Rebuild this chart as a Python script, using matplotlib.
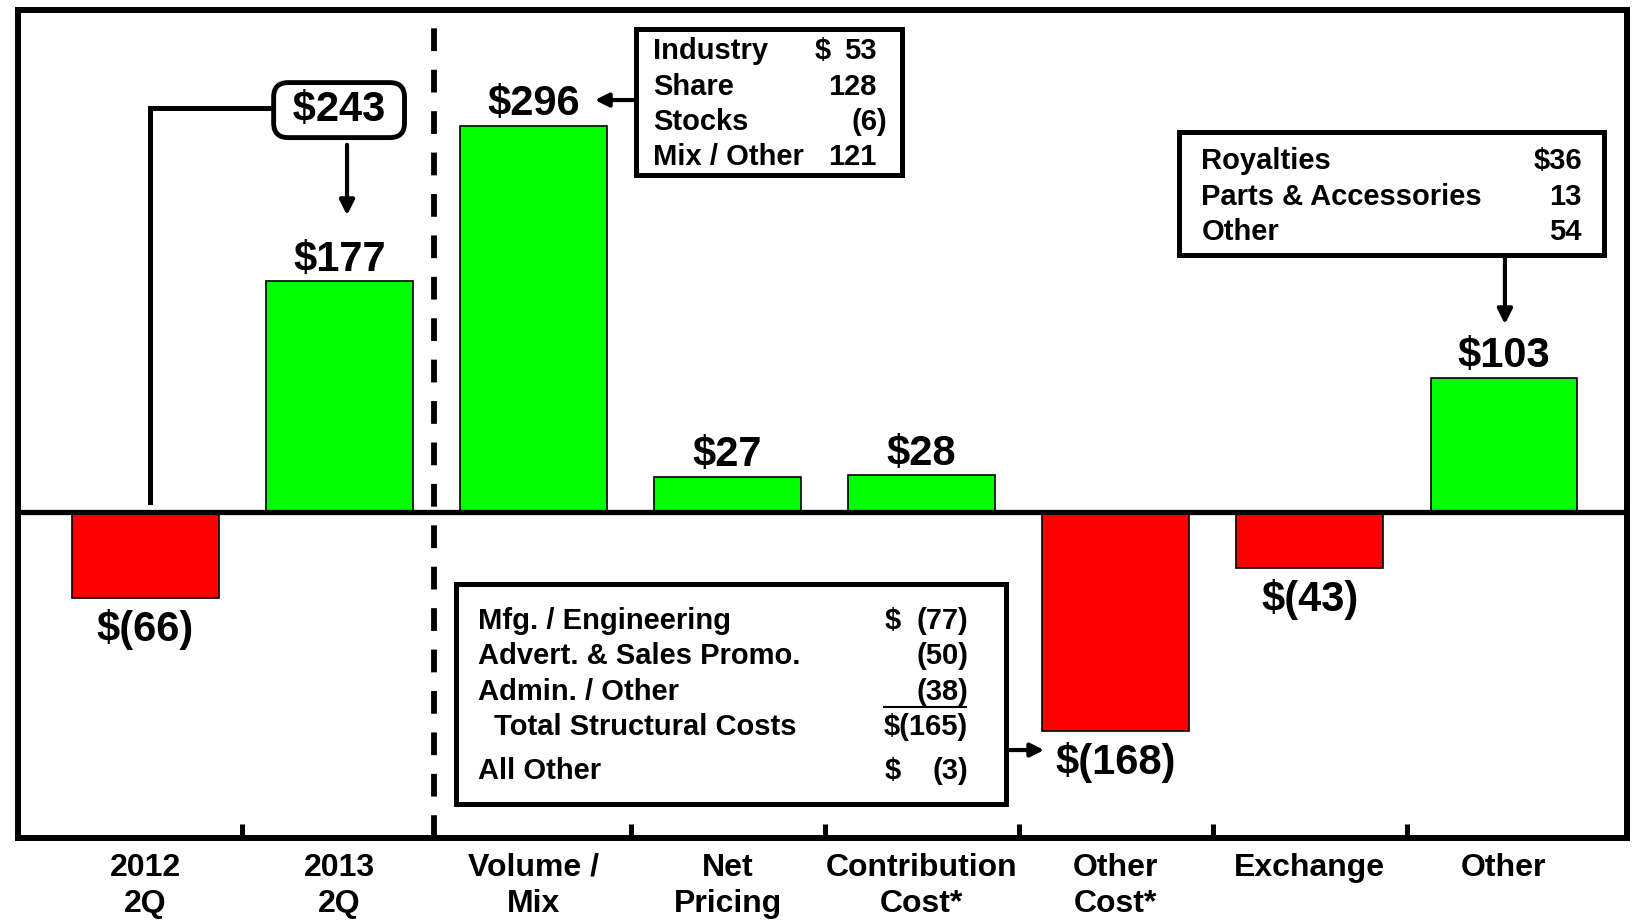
import matplotlib
matplotlib.use("Agg")
import matplotlib.pyplot as plt

plt.rcParams['font.family'] = ['Liberation Sans', 'DejaVu Sans']
plt.rcParams['font.weight'] = 'bold'

# datos
categories = ["2012\n2Q", "2013\n2Q", "Volume /\nMix", "Net\nPricing",
              "Contribution\nCost*", "Other\nCost*", "Exchange", "Other"]
values = [-66, 177, 296, 27, 28, -168, -43, 103]
change_total = 243

volume_items = ["Industry", "Share", "Stocks", "Mix / Other"]
volume_vals = [53, 128, -6, 121]

cost_items = ["Mfg. / Engineering", "Advert. & Sales Promo.", "Admin. / Other"]
cost_vals = [-77, -50, -38]
cost_total_label = "Total Structural Costs"
cost_total = -165
cost_other_label = "All Other"
cost_other = -3

other_items = ["Royalties", "Parts & Accessories", "Other"]
other_vals = [36, 13, 54]


def money(v, sign=True):
    s = "(%d)" % abs(v) if v < 0 else "%d" % v
    return "$" + s if sign else s


GREEN = "#00ff00"
RED = "#ff0000"
BOX_FS = 21
VAL_FS = 30
DY = 8.0  # de centro de mayusculas a linea base, en unidades de datos

fig = plt.figure(figsize=(16.34, 9.23), dpi=100)
ax = fig.add_axes([0.01132, 0.09209, 0.98439, 0.89707])
ax.set_xlim(-0.654, 7.635)
ax.set_ylim(-249.8, 384.7)

x = list(range(len(values)))
colors = [GREEN if v >= 0 else RED for v in values]
ax.bar(x, values, width=0.755, color=colors, edgecolor="black", linewidth=1.2, zorder=2)
ax.axhline(0, color="black", lw=3.8, zorder=3)
ax.axvline(1.487, color="black", lw=4.2, linestyle=(0, (3.9, 3.2)), zorder=3)

# etiquetas de valor
for xi, v in zip(x, values):
    off = 7.5 if v >= 0 else -31
    ax.annotate(money(v), (xi, v), xytext=(0, off), textcoords="offset points",
                ha="center", va="baseline", fontsize=VAL_FS, fontweight="bold")

# ejes
for sp in ax.spines.values():
    sp.set_linewidth(4.3)
ax.set_yticks([])
ax.set_xticks(x, categories)
ax.set_xticks([0.5, 2.5, 3.5, 4.5, 5.5, 6.5], minor=True)
ax.tick_params(axis="x", which="major", length=0, pad=10.5, labelsize=23)
ax.tick_params(axis="x", which="minor", direction="in", length=10, width=3.6)
for lbl in ax.get_xticklabels():
    lbl.set_fontweight("bold")
    lbl.set_linespacing(1.28)

# $243 caja y corchete
ax.plot([0.0237, 0.0237, 0.658], [7.7, 309.6, 309.6], color="black", lw=3.6,
        solid_joinstyle="miter", zorder=3)
ax.text(0.998, 308, " $%d " % change_total, ha="center", va="center", fontsize=VAL_FS,
        fontweight="bold", zorder=4,
        bbox=dict(boxstyle="round,pad=0.18,rounding_size=0.35", fc="white", ec="black", lw=3.5))
ax.annotate("", xy=(1.039, 225.3), xytext=(1.039, 283.5),
            arrowprops=dict(arrowstyle="-|>", lw=3, color="black", mutation_scale=22))

# caja Volume / Mix
ax.add_patch(plt.Rectangle((2.528, 258.2), 3.899 - 2.528, 370.1 - 258.2, fill=False,
                           ec="black", lw=3.6, zorder=4))
rows_y = [354.8, 327.2, 300.4, 274.3]
for i, (name, v) in enumerate(zip(volume_items, volume_vals)):
    ax.text(2.616, rows_y[i] - DY, name, ha="left", va="baseline", fontsize=BOX_FS)
    xr = 3.822 if v < 0 else 3.768
    ax.text(xr, rows_y[i] - DY, money(v, sign=False), ha="right", va="baseline",
            fontsize=BOX_FS)
ax.text(3.450, rows_y[0] - DY, "$", ha="left", va="baseline", fontsize=BOX_FS)
ax.annotate("", xy=(2.302, 315.7), xytext=(2.528, 315.7),
            arrowprops=dict(arrowstyle="-|>", lw=3, color="black", mutation_scale=20))

# caja Other Cost
ax.add_patch(plt.Rectangle((1.601, -223.8), 4.435 - 1.601, 223.8 - 55.2, fill=False,
                           ec="black", lw=3.6, zorder=4))
cost_y = [-82.0, -108.8, -136.4]
for i, (name, v) in enumerate(zip(cost_items, cost_vals)):
    ax.text(1.714, cost_y[i] - DY, name, ha="left", va="baseline", fontsize=BOX_FS)
    ax.text(4.240, cost_y[i] - DY, money(v, sign=False), ha="right", va="baseline",
            fontsize=BOX_FS)
ax.text(3.811, cost_y[0] - DY, "$", ha="left", va="baseline", fontsize=BOX_FS)
ax.plot([3.806, 4.228], [-149.4, -149.4], color="black", lw=1.5)
ax.text(1.797, -162.5 - DY, cost_total_label, ha="left", va="baseline", fontsize=BOX_FS)
ax.text(4.240, -162.5 - DY, money(cost_total), ha="right", va="baseline", fontsize=BOX_FS)
ax.text(1.714, -196.9 - DY, cost_other_label, ha="left", va="baseline", fontsize=BOX_FS)
ax.text(3.811, -196.9 - DY, "$", ha="left", va="baseline", fontsize=BOX_FS)
ax.text(4.240, -196.9 - DY, money(cost_other, sign=False), ha="right", va="baseline",
        fontsize=BOX_FS)
ax.annotate("", xy=(4.646, -182.4), xytext=(4.435, -182.4),
            arrowprops=dict(arrowstyle="-|>", lw=3, color="black", mutation_scale=20))

# caja Other
ax.add_patch(plt.Rectangle((5.324, 196.9), 7.517 - 5.324, 291.2 - 196.9, fill=False,
                           ec="black", lw=3.6, zorder=4))
oth_y = [270.5, 242.9, 216.1]
for i, (name, v) in enumerate(zip(other_items, other_vals)):
    ax.text(5.442, oth_y[i] - DY, name, ha="left", va="baseline", fontsize=BOX_FS)
    ax.text(7.403, oth_y[i] - DY, money(v, sign=(i == 0)), ha="right", va="baseline",
            fontsize=BOX_FS)
ax.annotate("", xy=(7.006, 141.8), xytext=(7.006, 196.9),
            arrowprops=dict(arrowstyle="-|>", lw=3, color="black", mutation_scale=22))

fig.savefig("out.png", dpi=100)
